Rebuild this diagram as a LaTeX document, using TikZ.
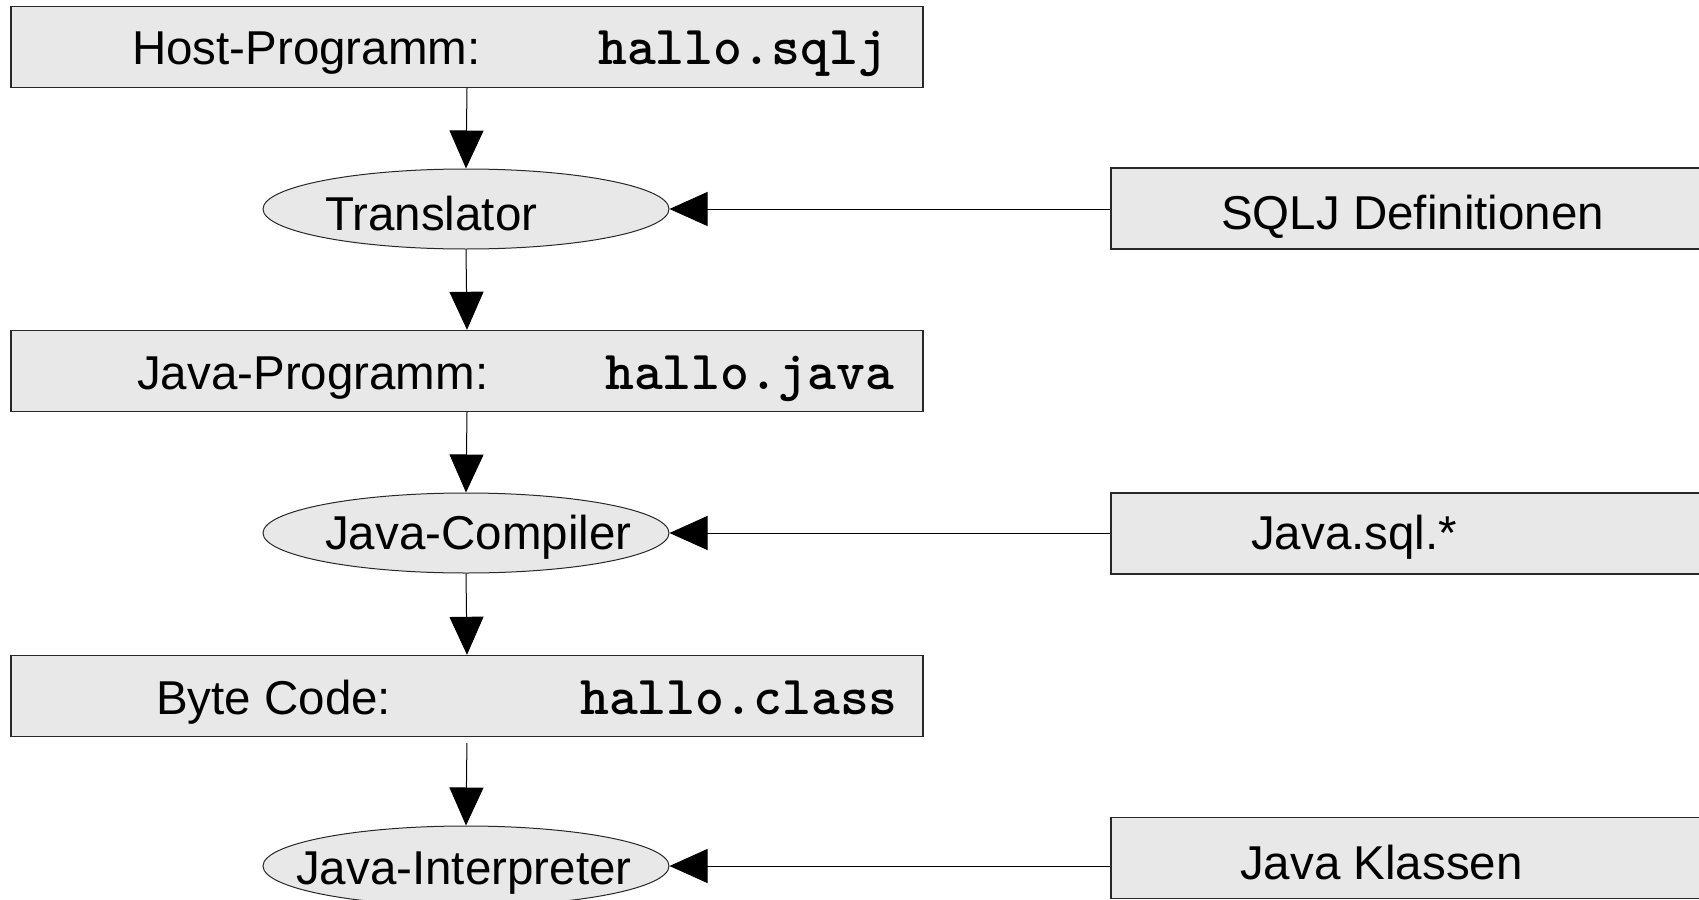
\documentclass[tikz,border=0pt]{standalone}
\usepackage{fontspec}
\setmainfont{Liberation Sans}
\usetikzlibrary{shapes.geometric,arrows.meta}
\definecolor{boxfill}{RGB}{232,232,232}
\definecolor{boxline}{RGB}{40,40,40}
\begin{document}
\begin{tikzpicture}[x=1pt,y=-1pt,
  box/.style={rectangle,draw=boxline,fill=boxfill,line width=1.4pt,minimum width=912pt,minimum height=81pt,inner sep=0pt},
  sidebox/.style={rectangle,draw=boxline,fill=boxfill,line width=1.4pt,minimum width=700pt,minimum height=81pt,inner sep=0pt},
  proc/.style={ellipse,draw=boxline,fill=boxfill,line width=1pt,minimum width=406pt,minimum height=80pt,inner sep=0pt},
  txt/.style={font=\fontsize{47.5}{57}\selectfont,inner sep=0pt,anchor=base west},
  code/.style={font=\fontsize{55}{62}\selectfont\ttfamily\bfseries,inner sep=0pt,anchor=base west},
  arr/.style={line width=1pt,-{Triangle[length=38pt,width=34pt]}}]
\clip (0,0) rectangle (1699,899);
\fill[white] (0,0) rectangle (1699,899);
% nodes
\node[box] (host) at (467,47) {};
\node[txt] (hostt) at (132,65) {Host-Programm:};
\node[code] (hostc) at (598,65) {hallo.sqlj};
\node[proc] (transl) at (466,209) {};
\node[txt] (translt) at (325,230) {Translator};
\node[sidebox] (sqlj) at (1461,208.5) {};
\node[txt] (sqljt) at (1221,229) {SQLJ Definitionen};
\node[box] (jprog) at (467,371) {};
\node[txt] (jprogt) at (137,389) {Java-Programm:};
\node[code] (jprogc) at (605,389) {hallo.java};
\node[proc] (comp) at (466,533) {};
\node[txt] (compt) at (325,549) {Java-Compiler};
\node[sidebox] (jsql) at (1461,533.5) {};
\node[txt] (jsqlt) at (1251,549) {Java.sql.*};
\node[box] (byte) at (467,696) {};
\node[txt] (bytet) at (156,714) {Byte Code:};
\node[code] (bytec) at (580,714) {hallo.class};
\node[proc] (interp) at (466,866) {};
\node[txt] (interpt) at (296,884) {Java-Interpreter};
\node[sidebox] (jkl) at (1461,858) {};
\node[txt] (jklt) at (1240,879) {Java Klassen};
% connectors
\draw[arr] (host.south) -- (transl.north);
\draw[arr] (transl.south) -- (jprog.north);
\draw[arr] (jprog.south) -- (comp.north);
\draw[arr] (comp.south) -- (byte.north);
\draw[arr,shorten <=6pt] (byte.south) -- (interp.north);
\draw[arr] (sqlj.west |- transl.east) -- (transl.east);
\draw[arr] (jsql.west |- comp.east) -- (comp.east);
\draw[arr] (jkl.west |- interp.east) -- (interp.east);
\end{tikzpicture}
\end{document}
